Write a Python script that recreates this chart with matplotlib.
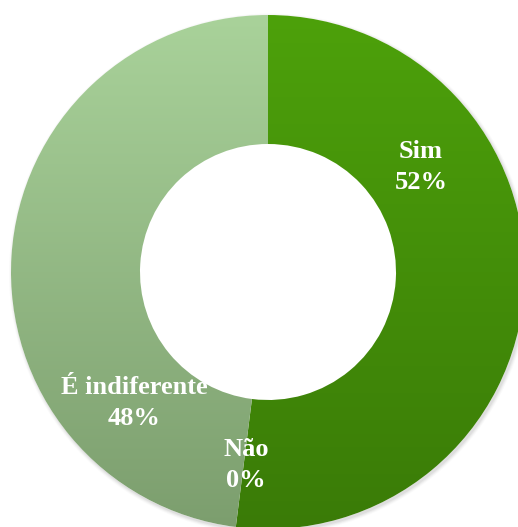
import numpy as np
import matplotlib
matplotlib.use('Agg')
import matplotlib.pyplot as plt
from matplotlib.colors import LinearSegmentedColormap
from matplotlib.patches import Circle

categories = ['Sim', 'Não', 'É indiferente']
values = [52, 0, 48]

# vertical gradient (top, bottom) for each slice
grad_top = ['#4da10b', '#4da10b', '#a9d29a']
grad_bot = ['#3a7b07', '#3a7b07', '#7c9e6e']

W, H = 518, 527
cx, cy = 268, H - 272
R = 257
hole = 128

fig = plt.figure(figsize=(W / 100, H / 100), dpi=100)
ax = fig.add_axes([0, 0, 1, 1])

# soft shadow under the outer rim
for k, a in enumerate([0.10, 0.08, 0.06, 0.04]):
    ax.add_patch(Circle((cx + 1.5, cy - 2.0), R + 0.5 + k, color='#808080',
                        alpha=a, lw=0, zorder=0))
ax.add_patch(Circle((cx, cy), R, color='white', lw=0, zorder=0.5))

wedges, _ = ax.pie(values, radius=R, center=(cx, cy), startangle=90,
                   counterclock=False, frame=True,
                   wedgeprops=dict(width=R - hole, linewidth=0))
ax.set_xlim(0, W)
ax.set_ylim(0, H)
ax.set_aspect('auto')
ax.axis('off')

yy = np.linspace(0, 1, 256).reshape(-1, 1)
for w, c0, c1 in zip(wedges, grad_top, grad_bot):
    cmap = LinearSegmentedColormap.from_list('g', [c1, c0])
    im = ax.imshow(yy, cmap=cmap, origin='lower', aspect='auto',
                   extent=(cx - R, cx + R, cy - R, cy + R), zorder=2)
    im.set_clip_path(w)
    w.set_alpha(0)

txt = dict(color='white', fontsize=19, fontweight='bold',
           family='Liberation Serif', ha='center', va='center',
           linespacing=1.45, zorder=5)
label_pos = [(421, H - 167), (246, H - 465), (134, H - 403)]
for name, v, (x, y) in zip(categories, values, label_pos):
    ax.text(x, y, f'{name}\n{v}%', **txt)

fig.savefig('out.png', dpi=100)
